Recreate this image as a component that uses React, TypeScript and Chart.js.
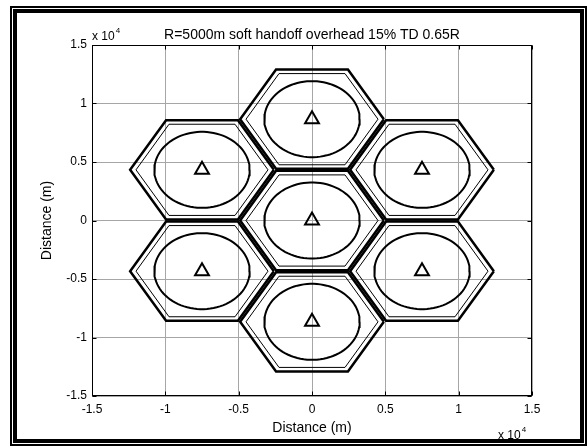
import React, { useEffect, useRef } from "react";
import { Chart, registerables } from "chart.js";

Chart.register(...registerables);

// ---- data ----
const titleText = "R=5000m soft handoff overhead 15% TD 0.65R";
const xAxisLabel = "Distance (m)";
const yAxisLabel = "Distance (m)";
const exponentPrefix = "x 10";
const exponentPower = "4";
const tickValues = [-15000, -10000, -5000, 0, 5000, 10000, 15000];
const tickLabels = ["-1.5", "-1", "-0.5", "0", "0.5", "1", "1.5"];
const cellCenterX = [0, 0, 7500, 7500, 0, -7500, -7500];
const cellCenterY = [0, 8660, 4330, -4330, -8660, -4330, 4330];
const cellRadius = 5000;
const boundaryRatio = 0.98;
const handoffRatio = 0.9;
const coverageRatio = 0.65;

const FONT = '"Liberation Sans", Arial, Helvetica, sans-serif';

function hexagon(cx: number, cy: number, r: number) {
  const pts: { x: number; y: number }[] = [];
  for (let k = 0; k <= 6; k++) {
    const a = (Math.PI / 3) * k;
    pts.push({ x: cx + r * Math.cos(a), y: cy + r * Math.sin(a) });
  }
  return pts;
}

function circle(cx: number, cy: number, r: number) {
  const pts: { x: number; y: number }[] = [];
  for (let k = 0; k <= 90; k++) {
    const a = ((2 * Math.PI) / 90) * k;
    pts.push({ x: cx + r * Math.cos(a), y: cy + r * Math.sin(a) });
  }
  return pts;
}

function lineDs(data: { x: number; y: number }[], width: number) {
  return {
    data,
    showLine: true,
    borderColor: "#000",
    borderWidth: width,
    pointRadius: 0,
    pointHoverRadius: 0,
    fill: false,
    tension: 0,
  };
}

const decorPlugin = {
  id: "decor",
  afterDraw(chart: any) {
    const { ctx, chartArea: a } = chart;
    const xs = chart.scales.x;
    const ys = chart.scales.y;
    ctx.save();
    // axes box
    const L = Math.round(a.left) + 0.5;
    const R = Math.round(a.right) - 0.5;
    const T = Math.round(a.top) + 0.5;
    const B = Math.round(a.bottom) - 0.5;
    ctx.strokeStyle = "#000";
    ctx.lineWidth = 1;
    ctx.strokeRect(L, T, R - L, B - T);
    // inward ticks
    const tl = 4;
    ctx.beginPath();
    tickValues.forEach((v) => {
      const px = Math.round(xs.getPixelForValue(v)) + 0.5;
      ctx.moveTo(px, T);
      ctx.lineTo(px, T + tl);
      ctx.moveTo(px, B);
      ctx.lineTo(px, B - tl);
      const py = Math.round(ys.getPixelForValue(v)) + 0.5;
      ctx.moveTo(L, py);
      ctx.lineTo(L + tl, py);
      ctx.moveTo(R, py);
      ctx.lineTo(R - tl, py);
    });
    ctx.stroke();

    // texts
    ctx.fillStyle = "#000";
    ctx.font = `14px ${FONT}`;
    ctx.textAlign = "center";
    ctx.textBaseline = "middle";
    const cx = (a.left + a.right) / 2;
    ctx.fillText(titleText, cx, 35);
    ctx.fillText(xAxisLabel, cx, 428);
    ctx.save();
    ctx.translate(47, (a.top + a.bottom) / 2);
    ctx.rotate(-Math.PI / 2);
    ctx.fillText(yAxisLabel, 0, 0);
    ctx.restore();

    // exponents
    ctx.textAlign = "left";
    const drawExp = (x: number, y: number) => {
      ctx.font = `12px ${FONT}`;
      ctx.fillText(exponentPrefix, x, y);
      const w = ctx.measureText(exponentPrefix).width;
      ctx.font = `8px ${FONT}`;
      ctx.fillText(exponentPower, x + w + 1, y - 6);
    };
    drawExp(a.left, 37);
    drawExp(498, 436);

    // figure frame
    ctx.strokeStyle = "#000";
    ctx.lineWidth = 2;
    ctx.strokeRect(11, 7, 575, 438);
    ctx.lineWidth = 4;
    ctx.strokeRect(15, 11, 567, 430);
    ctx.restore();
  },
};

export default function App() {
  const ref = useRef<HTMLCanvasElement | null>(null);

  useEffect(() => {
    if (!ref.current) return;
    const datasets: any[] = [];
    for (let i = 0; i < cellCenterX.length; i++) {
      const cx = cellCenterX[i];
      const cy = cellCenterY[i];
      datasets.push(lineDs(hexagon(cx, cy, cellRadius * boundaryRatio), 2.5));
      datasets.push(lineDs(hexagon(cx, cy, cellRadius * handoffRatio), 1));
      datasets.push(lineDs(circle(cx, cy, cellRadius * coverageRatio), 2));
    }
    datasets.push({
      data: cellCenterX.map((x, i) => ({ x, y: cellCenterY[i] })),
      showLine: false,
      pointStyle: "triangle",
      pointRadius: 8,
      pointHoverRadius: 8,
      borderColor: "#000",
      borderWidth: 2,
      backgroundColor: "rgba(0,0,0,0)",
    });

    const tickCb = (v: any) => {
      const idx = tickValues.indexOf(Number(v));
      return idx >= 0 ? tickLabels[idx] : "";
    };

    const axis = (isX: boolean) => ({
      type: "linear" as const,
      min: -15000,
      max: 15000,
      afterBuildTicks: (s: any) => {
        s.ticks = tickValues.map((v) => ({ value: v }));
      },
      afterFit: (s: any) => {
        if (isX) s.height = 52;
        else s.width = 92;
      },
      ticks: {
        callback: tickCb,
        color: "#000",
        font: { family: FONT, size: 12 },
        padding: isX ? 6 : 5,
        autoSkip: false,
        maxRotation: 0,
      },
      grid: {
        color: "#a6a6a6",
        lineWidth: 1,
        drawTicks: false,
      },
      border: { display: false },
    });

    const chart = new Chart(ref.current, {
      type: "scatter",
      data: { datasets },
      options: {
        animation: false,
        responsive: false,
        devicePixelRatio: 1,
        layout: { padding: { left: 0, top: 45, right: 55, bottom: 0 } },
        plugins: {
          legend: { display: false },
          tooltip: { enabled: false },
          title: { display: false },
        },
        events: [],
        scales: { x: axis(true), y: axis(false) },
      },
      plugins: [decorPlugin],
    } as any);
    return () => chart.destroy();
  }, []);

  return (
    <div style={{ position: "absolute", left: 0, top: 0, width: 587, height: 448, background: "#fff" }}>
      <canvas ref={ref} width={587} height={448} style={{ display: "block" }} />
    </div>
  );
}
